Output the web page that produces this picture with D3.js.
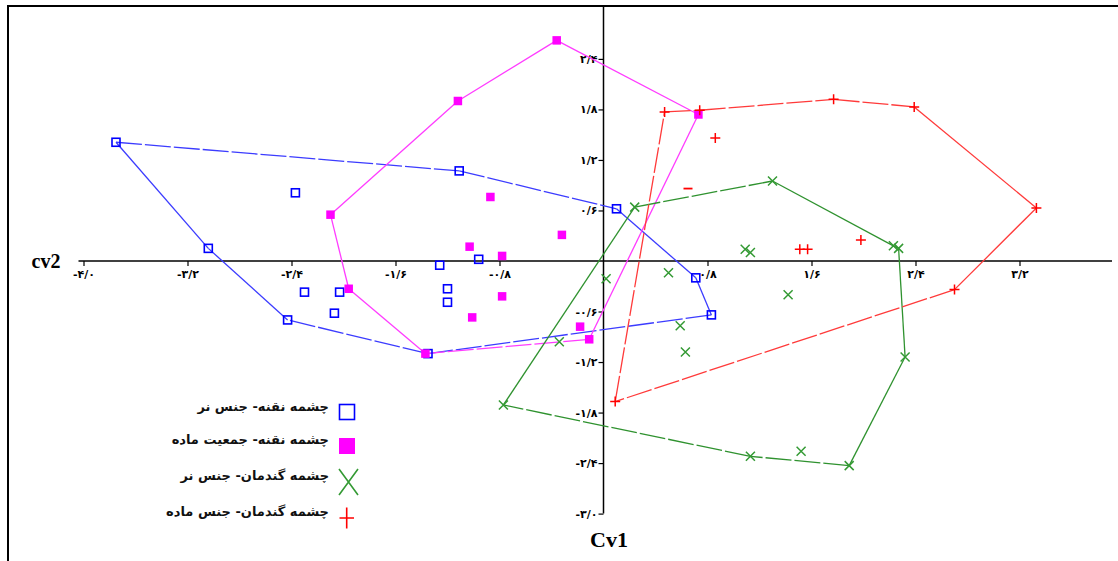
<!DOCTYPE html>
<html><head><meta charset="utf-8">
<script src="https://cdn.jsdelivr.net/npm/d3@7/dist/d3.min.js"></script>
<style>body{margin:0;background:#fff}svg{display:block}</style>
</head><body><svg id="c" width="1118" height="561"></svg>
<script>
// ---- data ----
const xTicks = [-4.0, -3.2, -2.4, -1.6, -0.8, 0.8, 1.6, 2.4, 3.2];
const yTicks = [2.4, 1.8, 1.2, 0.6, -0.6, -1.2, -1.8, -2.4, -3.0];
const seriesNames = ["چشمه نقنه- جنس نر", "چشمه نقنه- جمعیت ماده", "چشمه گندمان- جنس نر", "چشمه گندمان- جنس ماده"];

const blueHull = [[-3.75,1.41],[-1.11,1.07],[0.10,0.62],[0.71,-0.20],[0.83,-0.64],[-1.35,-1.10],[-2.43,-0.70],[-3.04,0.15]];
const blueInner = [[-2.37,0.81],[-2.30,-0.37],[-2.03,-0.37],[-2.07,-0.62],[-1.26,-0.05],[-0.96,0.02],[-1.20,-0.33],[-1.20,-0.49]];

const magentaHull = [[-0.36,2.62],[0.73,1.74],[-0.11,-0.93],[-1.37,-1.10],[-1.96,-0.33],[-2.10,0.55],[-1.12,1.90]];
const magentaInner = [[-0.87,0.76],[-1.03,0.17],[-0.78,0.06],[-0.32,0.31],[-0.78,-0.42],[-1.01,-0.67],[-0.18,-0.78]];

const greenHull = [[0.24,0.64],[1.30,0.95],[2.23,0.18],[2.27,0.15],[2.32,-1.14],[1.89,-2.43],[1.13,-2.32],[-0.77,-1.71]];
const greenInner = [[0.02,-0.21],[0.50,-0.14],[0.59,-0.77],[0.63,-1.08],[1.09,0.14],[1.13,0.10],[1.42,-0.40],[1.52,-2.26],[-0.34,-0.96]];

const redHull = [[0.47,1.77],[0.74,1.79],[1.77,1.92],[2.39,1.83],[3.33,0.63],[2.70,-0.34],[0.09,-1.67]];
const redInner = [[0.86,1.46],[1.51,0.14],[1.57,0.14],[1.98,0.25]];
const redDash = [[0.65,0.86]];

// ---- styles ----
const groups = [
  {hull: blueHull, inner: blueInner, mark: "sqOpen", color: "#0000ff", line: "#3c3cff", dash: [1,1,0,0,1,1,0,0]},
  {hull: magentaHull, inner: magentaInner, mark: "sqFill", color: "#ff00ff", line: "#ff3cff", dash: [0,0,1,0,0,0,0]},
  {hull: greenHull, inner: greenInner, mark: "cross", color: "#349a34", line: "#2f922f", dash: [1,0,0,0,0,1,1,0]},
  {hull: redHull, inner: redInner, mark: "plus", color: "#ff0000", line: "#ff3a3a", dash: [1,1,1,0,0,1,1]}
];

const svg = d3.select("#c");
const x = d3.scaleLinear().domain([-4, 3.2]).range([83.5, 1019.5]);
const y = d3.scaleLinear().domain([-3, 2.4]).range([513.6, 58.9]);

const fa = s => s.replace(/[0-9]/g, d => "۰۱۲۳۴۵۶۷۸۹"[+d]).replace(".", "/");
const fmt = v => (v < 0 ? "-" : "") + fa(d3.format(".1f")(Math.abs(v)));

// frame
svg.append("line").attr("x1", 8).attr("x2", 1118).attr("y1", 6).attr("y2", 6).attr("stroke", "#000").attr("stroke-width", 2);
svg.append("line").attr("x1", 8).attr("x2", 8).attr("y1", 5).attr("y2", 561).attr("stroke", "#000").attr("stroke-width", 2);

// axes
const gx = svg.append("g").attr("transform", `translate(0,${y(0)})`)
  .call(d3.axisBottom(x).tickValues(xTicks).tickSize(5).tickSizeOuter(0).tickFormat(fmt));
gx.select(".domain").remove();
gx.append("line").attr("x1", x(-4) - 5).attr("x2", 1112).attr("stroke", "#000").attr("stroke-width", 1.5);
gx.selectAll(".tick line").attr("stroke-width", 1.2);
gx.selectAll(".tick text").attr("dy", 0).attr("y", 17).attr("font-family", "DejaVu Sans").attr("font-weight", "bold").attr("font-size", 11).attr("fill", "#000");

const gy = svg.append("g").attr("transform", `translate(${x(0)},0)`)
  .call(d3.axisLeft(y).tickValues(yTicks).tickSize(5).tickSizeOuter(0).tickFormat(fmt));
gy.select(".domain").remove();
gy.append("line").attr("y1", 7).attr("y2", y(-3)).attr("stroke", "#000").attr("stroke-width", 1.5);
gy.selectAll(".tick line").attr("stroke-width", 1.2);
gy.selectAll(".tick text").attr("x", -6).attr("font-family", "DejaVu Sans").attr("font-weight", "bold").attr("font-size", 11).attr("fill", "#000");

// axis titles
svg.append("text").attr("x", 46).attr("y", 268).attr("text-anchor", "middle")
  .attr("font-family", "Liberation Serif").attr("font-weight", "bold").attr("font-size", 20).text("cv2");
svg.append("text").attr("x", 609).attr("y", 547).attr("text-anchor", "middle")
  .attr("font-family", "Liberation Serif").attr("font-weight", "bold").attr("font-size", 22).text("Cv1");

// markers
function drawMark(g, type, cx, cy, color, s) {
  if (type === "sqOpen") {
    g.append("rect").attr("x", cx - s/2).attr("y", cy - s/2).attr("width", s).attr("height", s)
      .attr("fill", "none").attr("stroke", color).attr("stroke-width", 1.6);
  } else if (type === "sqFill") {
    g.append("rect").attr("x", cx - s/2).attr("y", cy - s/2).attr("width", s).attr("height", s).attr("fill", color);
  } else if (type === "cross") {
    const h = s/2;
    g.append("path").attr("d", `M${cx-h},${cy-h}L${cx+h},${cy+h}M${cx-h},${cy+h}L${cx+h},${cy-h}`)
      .attr("stroke", color).attr("stroke-width", 1.5).attr("fill", "none");
  } else if (type === "plus") {
    const h = s/2;
    g.append("path").attr("d", `M${cx-h},${cy}L${cx+h},${cy}M${cx},${cy-h}L${cx},${cy+h}`)
      .attr("stroke", color).attr("stroke-width", 1.5).attr("fill", "none");
  } else if (type === "dash") {
    const h = s/2;
    g.append("path").attr("d", `M${cx-h},${cy}L${cx+h},${cy}`).attr("stroke", color).attr("stroke-width", 1.8);
  }
}

const plot = svg.append("g");
groups.forEach(gr => {
  const n = gr.hull.length;
  for (let i = 0; i < n; i++) {
    const a = gr.hull[i], b = gr.hull[(i + 1) % n];
    plot.append("line").attr("x1", x(a[0])).attr("y1", y(a[1])).attr("x2", x(b[0])).attr("y2", y(b[1]))
      .attr("stroke", gr.line).attr("stroke-width", 1.3)
      .attr("stroke-dasharray", gr.dash[i] ? "26,3" : null);
  }
});
const sizes = {sqOpen: 8, sqFill: 8.5, cross: 9, plus: 10};
groups.forEach(gr => {
  gr.hull.concat(gr.inner).forEach(p => drawMark(plot, gr.mark, x(p[0]), y(p[1]), gr.color, sizes[gr.mark]));
});
redDash.forEach(p => drawMark(plot, "dash", x(p[0]), y(p[1]), "#ff0000", 9));

// legend
const leg = svg.append("g");
const legY = [412, 446, 482, 518];
const legMark = [
  {t: "sqOpen", s: 15}, {t: "sqFill", s: 16}, {t: "cross", s: 20}, {t: "plus", s: 16}
];
seriesNames.forEach((name, i) => {
  const gr = groups[i];
  if (legMark[i].t === "cross") {
    leg.append("path").attr("d", `M${339},${legY[i]-13}L${358},${legY[i]+13}M${339},${legY[i]+13}L${358},${legY[i]-13}`)
      .attr("stroke", gr.color).attr("stroke-width", 1.6).attr("fill", "none");
  } else if (legMark[i].t === "plus") {
    leg.append("path").attr("d", `M${339.5},${legY[i]}L${354},${legY[i]}M${346.7},${legY[i]-10.5}L${346.7},${legY[i]+10.5}`)
      .attr("stroke", gr.color).attr("stroke-width", 1.6).attr("fill", "none");
  } else {
    drawMark(leg, legMark[i].t, 347, legY[i], gr.color, legMark[i].s);
  }
  leg.append("text").attr("x", 329).attr("y", legY[i] + (i === 0 ? -1 : -2)).attr("text-anchor", "end")
    .attr("font-family", "DejaVu Sans").attr("font-weight", "bold").attr("font-size", 13)
    .attr("fill", "#111").text(name);
});
</script></body></html>
